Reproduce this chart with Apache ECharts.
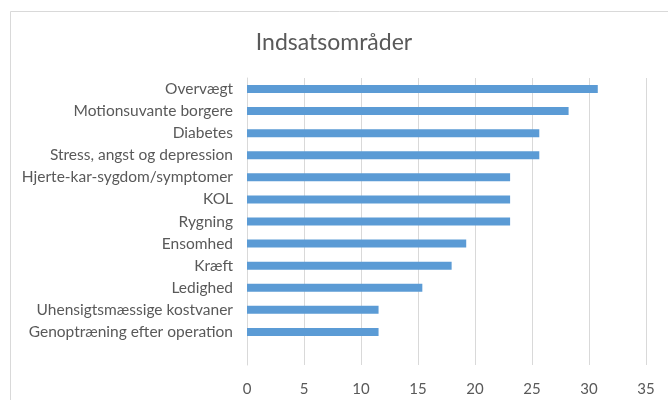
<!DOCTYPE html>
<html>
<head>
<meta charset="utf-8">
<script src="https://cdn.jsdelivr.net/npm/echarts@6/dist/echarts.min.js"></script>
<style>html,body{margin:0;padding:0;background:#fff}#c{width:668px;height:400px}</style>
</head>
<body>
<div id="c"></div>
<script>
const titleText = 'Indsatsområder';
const categories = ['Overvægt','Motionsuvante borgere','Diabetes','Stress, angst og depression','Hjerte-kar-sygdom/symptomer','KOL','Rygning','Ensomhed','Kræft','Ledighed','Uhensigtsmæssige kostvaner','Genoptræning efter operation',''];
const values = [30.77,28.21,25.64,25.64,23.08,23.08,23.08,19.23,17.95,15.38,11.54,11.54,null];
const xTicks = [0,5,10,15,20,25,30,35];

const chart = echarts.init(document.getElementById('c'), null, {renderer:'canvas'});
const font = 'Lato, "Open Sans", sans-serif';
chart.setOption({
  animation:false,
  backgroundColor:'#fff',
  title:{text:titleText,left:'center',top:26,textStyle:{fontFamily:font,fontSize:23,fontWeight:'normal',color:'#595959'}},
  graphic:[{type:'rect',shape:{x:10.5,y:11.5,width:700,height:420},style:{fill:null,stroke:'#d9d9d9',lineWidth:1},silent:true}],
  grid:{left:247,right:22,top:78,bottom:35,containLabel:false},
  xAxis:{type:'value',min:xTicks[0],max:xTicks[xTicks.length-1],interval:5,
    axisLine:{show:false},axisTick:{show:false},
    splitLine:{show:true,lineStyle:{color:'#d9d9d9',width:1}},
    axisLabel:{color:'#595959',fontFamily:font,fontSize:15,margin:17}},
  yAxis:{type:'category',data:categories,inverse:true,
    axisLine:{show:true,lineStyle:{color:'#d9d9d9'}},axisTick:{show:false},
    axisLabel:{color:'#595959',fontFamily:font,fontSize:15.5,margin:14}},
  series:[{type:'bar',data:values,barWidth:8,itemStyle:{color:'#5b9bd5'}}]
});
</script>
</body>
</html>
